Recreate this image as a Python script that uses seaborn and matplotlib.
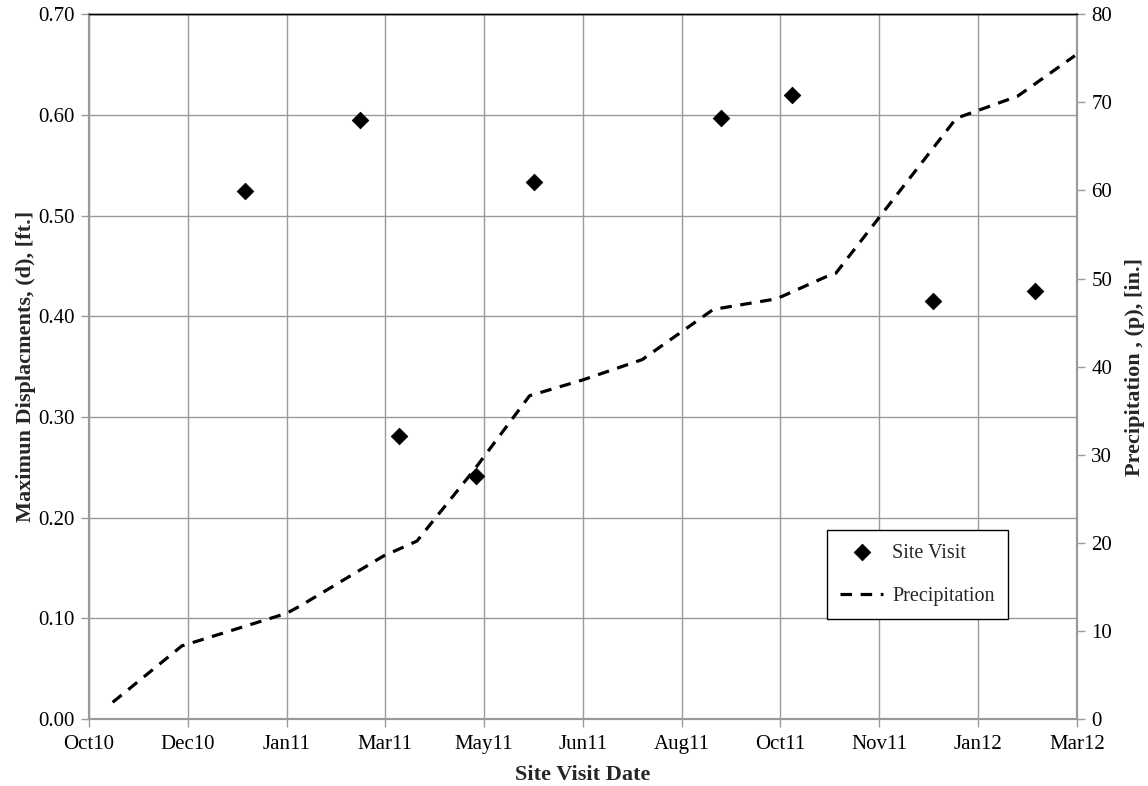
import pandas as pd
import seaborn as sns
import matplotlib.pyplot as plt
import matplotlib.dates as mdates

# site visits (maximum displacement, ft)
visit_dates = ['2011-01-07', '2011-03-06', '2011-03-26', '2011-05-04', '2011-06-02',
               '2011-09-05', '2011-10-11', '2011-12-21', '2012-02-11']
displacement = [0.524, 0.595, 0.281, 0.241, 0.533, 0.597, 0.620, 0.415, 0.425]

# cumulative precipitation (in)
precip_dates = ['2010-11-01', '2010-12-06', '2011-01-28', '2011-02-04', '2011-03-18',
                '2011-04-04', '2011-05-03', '2011-05-31', '2011-06-27', '2011-07-27',
                '2011-09-01', '2011-10-03', '2011-10-28', '2011-11-02', '2012-01-02',
                '2012-02-02', '2012-03-02']
precip = [1.9, 8.3, 12.0, 12.85, 18.5, 20.2, 28.3, 36.7, 38.5, 40.8,
          46.5, 47.7, 50.2, 50.6, 68.2, 70.7, 75.3]

tick_dates = pd.date_range('2010-10-20', periods=11, freq='50D')

visits = pd.DataFrame({'date': pd.to_datetime(visit_dates), 'd': displacement})
rain = pd.DataFrame({'date': pd.to_datetime(precip_dates), 'p': precip})

sns.set_theme(style='white')
plt.rcParams['font.family'] = ['Liberation Serif', 'DejaVu Serif']

fig = plt.figure(figsize=(11.48, 7.86), dpi=100)
ax = fig.add_axes([0.0775, 0.0852, 0.8605, 0.8966])
ax2 = ax.twinx()

grid_c = '#9a9a9a'
ax.grid(True, color=grid_c, linewidth=1)
ax.set_axisbelow(True)

sns.scatterplot(data=visits, x='date', y='d', ax=ax, marker='D', s=70,
                color='black', edgecolor='black', label='Site Visit', zorder=3)
sns.lineplot(data=rain, x='date', y='p', ax=ax2, color='black', linewidth=2.3,
             label='Precipitation')
ln = ax2.lines[0]
ln.set_dashes([3.6, 2.7])
ln.set_dash_capstyle('butt')

ax.set_xlim(tick_dates[0], tick_dates[-1])
ax.set_xticks(tick_dates)
ax.xaxis.set_major_formatter(mdates.DateFormatter('%b%y'))
ax.set_ylim(0, 0.70)
ax.set_yticks([i / 10 for i in range(8)])
ax.set_yticklabels([f'{i / 10:.2f}' for i in range(8)])
ax2.set_ylim(0, 80)
ax2.set_yticks(range(0, 81, 10))

for a in (ax, ax2):
    a.tick_params(axis='both', labelsize=15, colors='black', direction='out',
                  length=5.5, width=1, color=grid_c, pad=5)
    for s in a.spines.values():
        s.set_color(grid_c)
        s.set_linewidth(1.5)
    a.spines['top'].set_color('black')
    a.spines['top'].set_linewidth(1)
ax.tick_params(axis='y', which='both', left=True, right=False)
ax.tick_params(axis='x', bottom=True, pad=6)

ax.set_xlabel('Site Visit Date', fontsize=16, fontweight='bold', labelpad=8)
ax.set_ylabel('Maximun Displacments, (d), [ft.]', fontsize=16, fontweight='bold', labelpad=1)
ax2.set_ylabel('Precipitation , (p), [in.]', fontsize=16, fontweight='bold', labelpad=9)

h1, l1 = ax.get_legend_handles_labels()
h2, l2 = ax2.get_legend_handles_labels()
if ax2.get_legend():
    ax2.get_legend().remove()
ax.get_legend().remove()
leg = ax2.legend(h1 + h2, l1 + l2, loc='lower left', bbox_to_anchor=(0.747, 0.142),
                 fontsize=14.5, frameon=True, fancybox=False, edgecolor='black',
                 labelspacing=1.2, handlelength=2.15, handletextpad=0.45,
                 borderpad=0.65, borderaxespad=0)
leg.get_frame().set_linewidth(1)
leg.get_frame().set_alpha(1)

fig.savefig('out.png', dpi=100)
